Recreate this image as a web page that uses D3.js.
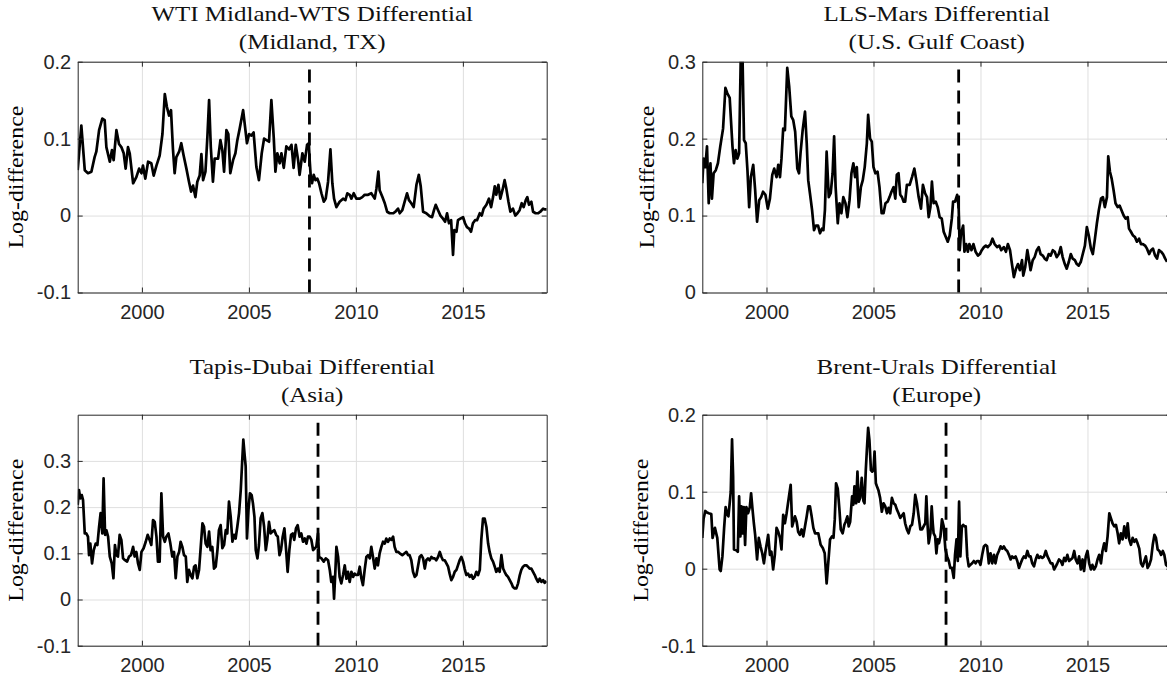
<!DOCTYPE html>
<html><head><meta charset="utf-8">
<script src="https://cdn.jsdelivr.net/npm/d3@7"></script>
<style>body{margin:0;background:#fff;overflow:hidden}svg{display:block}</style>
</head><body>
<svg id="chart" width="1167" height="679"></svg>
<script>
// ---------------- DATA ----------------
const xDomain = [1997, 2018.917];
const xTickValues = [2000, 2005, 2010, 2015];
const xTickLabels = ["2000", "2005", "2010", "2015"];
const titleLines = [
  ["WTI Midland-WTS Differential", "(Midland, TX)"],
  ["LLS-Mars Differential", "(U.S. Gulf Coast)"],
  ["Tapis-Dubai Differential", "(Asia)"],
  ["Brent-Urals Differential", "(Europe)"]
];
const yLabelText = "Log-difference";
const yDomains = [[-0.1, 0.2], [0, 0.3], [-0.1, 0.4], [-0.1, 0.2]];
const yTickValues = [[-0.1, 0, 0.1, 0.2], [0, 0.1, 0.2, 0.3], [-0.1, 0, 0.1, 0.2, 0.3], [-0.1, 0, 0.1, 0.2]];
const yTickLabels = [["-0.1", "0", "0.1", "0.2"], ["0", "0.1", "0.2", "0.3"], ["-0.1", "0", "0.1", "0.2", "0.3"], ["-0.1", "0", "0.1", "0.2"]];
const breakDates = [2007.83, 2008.98, 2008.23, 2008.39];

const wtiMidlandWts = [[1997.00,0.059],[1997.17,0.117],[1997.33,0.059],[1997.48,0.055],[1997.64,0.057],[1997.79,0.076],[1997.87,0.083],[1998.00,0.111],[1998.15,0.126],[1998.26,0.124],[1998.34,0.089],[1998.50,0.070],[1998.60,0.085],[1998.68,0.072],[1998.81,0.111],[1998.93,0.093],[1999.04,0.089],[1999.15,0.081],[1999.24,0.061],[1999.35,0.089],[1999.43,0.081],[1999.59,0.042],[1999.74,0.050],[1999.87,0.061],[1999.98,0.055],[2000.05,0.065],[2000.16,0.048],[2000.29,0.070],[2000.44,0.068],[2000.55,0.052],[2000.68,0.065],[2000.83,0.078],[2000.96,0.106],[2001.07,0.158],[2001.17,0.141],[2001.27,0.130],[2001.36,0.137],[2001.45,0.087],[2001.53,0.055],[2001.61,0.076],[2001.74,0.083],[2001.84,0.094],[2001.95,0.078],[2002.08,0.061],[2002.20,0.044],[2002.30,0.031],[2002.39,0.039],[2002.50,0.024],[2002.59,0.044],[2002.70,0.052],[2002.78,0.080],[2002.86,0.046],[2002.97,0.057],[2003.06,0.102],[2003.14,0.150],[2003.22,0.089],[2003.32,0.044],[2003.40,0.074],[2003.56,0.074],[2003.67,0.098],[2003.76,0.085],[2003.84,0.057],[2003.95,0.111],[2004.04,0.106],[2004.13,0.055],[2004.26,0.072],[2004.37,0.081],[2004.46,0.098],[2004.57,0.113],[2004.73,0.137],[2004.83,0.113],[2004.91,0.094],[2005.01,0.106],[2005.12,0.104],[2005.22,0.108],[2005.35,0.063],[2005.47,0.046],[2005.60,0.081],[2005.71,0.100],[2005.82,0.098],[2005.94,0.096],[2006.05,0.150],[2006.16,0.102],[2006.24,0.057],[2006.33,0.081],[2006.44,0.068],[2006.52,0.081],[2006.63,0.062],[2006.75,0.090],[2006.88,0.086],[2006.99,0.092],[2007.09,0.062],[2007.19,0.092],[2007.30,0.072],[2007.37,0.053],[2007.50,0.081],[2007.61,0.070],[2007.72,0.092],[2007.80,0.094],[2007.84,0.072],[2007.89,0.051],[2007.95,0.042],[2008.03,0.053],[2008.11,0.046],[2008.20,0.048],[2008.28,0.042],[2008.39,0.029],[2008.50,0.018],[2008.59,0.022],[2008.70,0.044],[2008.81,0.086],[2008.90,0.042],[2008.98,0.022],[2009.09,0.011],[2009.24,0.018],[2009.40,0.022],[2009.51,0.020],[2009.60,0.029],[2009.71,0.027],[2009.79,0.022],[2009.90,0.029],[2010.02,0.022],[2010.18,0.022],[2010.30,0.024],[2010.41,0.027],[2010.57,0.027],[2010.72,0.029],[2010.88,0.022],[2010.96,0.035],[2011.05,0.057],[2011.11,0.033],[2011.24,0.024],[2011.35,0.016],[2011.46,0.005],[2011.58,0.003],[2011.74,0.003],[2011.85,0.005],[2011.97,0.009],[2012.05,0.003],[2012.17,0.007],[2012.28,0.018],[2012.39,0.029],[2012.48,0.020],[2012.59,0.016],[2012.70,0.011],[2012.83,0.040],[2012.94,0.053],[2013.03,0.038],[2013.14,0.005],[2013.29,0.003],[2013.45,-0.001],[2013.56,-0.002],[2013.65,0.007],[2013.73,0.014],[2013.84,0.007],[2013.95,0.000],[2014.07,-0.004],[2014.17,-0.008],[2014.26,0.003],[2014.35,-0.010],[2014.45,-0.006],[2014.54,-0.051],[2014.60,-0.019],[2014.70,-0.021],[2014.77,-0.006],[2014.88,-0.004],[2015.01,-0.002],[2015.10,-0.010],[2015.19,-0.015],[2015.29,-0.017],[2015.38,-0.021],[2015.47,-0.010],[2015.57,-0.006],[2015.66,-0.006],[2015.79,0.003],[2015.88,0.000],[2015.97,0.009],[2016.10,0.014],[2016.22,0.022],[2016.32,0.011],[2016.41,0.024],[2016.49,0.038],[2016.56,0.027],[2016.66,0.040],[2016.75,0.022],[2016.85,0.033],[2016.95,0.046],[2017.03,0.035],[2017.13,0.018],[2017.22,0.005],[2017.34,0.009],[2017.45,0.000],[2017.55,0.003],[2017.65,0.007],[2017.75,0.016],[2017.84,0.011],[2017.94,0.020],[2018.01,0.024],[2018.09,0.014],[2018.20,0.018],[2018.28,0.005],[2018.40,0.003],[2018.51,0.003],[2018.62,0.005],[2018.75,0.009],[2018.84,0.008],[2018.92,0.008]];

const llsMars = [[1997.00,0.142],[1997.06,0.174],[1997.14,0.163],[1997.22,0.190],[1997.30,0.116],[1997.38,0.168],[1997.45,0.122],[1997.53,0.155],[1997.63,0.159],[1997.73,0.168],[1997.84,0.190],[1997.97,0.213],[1998.08,0.266],[1998.17,0.259],[1998.28,0.253],[1998.41,0.190],[1998.48,0.168],[1998.56,0.185],[1998.64,0.174],[1998.72,0.181],[1998.80,0.310],[1998.88,0.305],[1998.95,0.198],[1999.03,0.194],[1999.11,0.159],[1999.19,0.111],[1999.27,0.150],[1999.38,0.166],[1999.47,0.133],[1999.56,0.092],[1999.66,0.120],[1999.75,0.124],[1999.84,0.131],[1999.95,0.127],[2000.06,0.109],[2000.16,0.122],[2000.27,0.153],[2000.36,0.161],[2000.47,0.150],[2000.55,0.166],[2000.63,0.150],[2000.70,0.174],[2000.78,0.213],[2000.86,0.211],[2000.97,0.292],[2001.06,0.268],[2001.16,0.229],[2001.25,0.224],[2001.34,0.209],[2001.44,0.161],[2001.52,0.155],[2001.59,0.181],[2001.69,0.211],[2001.80,0.235],[2001.88,0.194],[2001.95,0.146],[2002.03,0.129],[2002.13,0.107],[2002.22,0.081],[2002.31,0.087],[2002.41,0.087],[2002.50,0.077],[2002.59,0.083],[2002.66,0.081],[2002.73,0.107],[2002.81,0.183],[2002.91,0.124],[2003.00,0.129],[2003.09,0.155],[2003.16,0.203],[2003.23,0.137],[2003.33,0.090],[2003.41,0.116],[2003.50,0.103],[2003.59,0.124],[2003.69,0.116],[2003.78,0.098],[2003.88,0.120],[2003.97,0.155],[2004.06,0.168],[2004.14,0.150],[2004.22,0.163],[2004.31,0.111],[2004.41,0.137],[2004.50,0.146],[2004.59,0.163],[2004.69,0.194],[2004.75,0.231],[2004.84,0.200],[2004.92,0.196],[2005.00,0.163],[2005.09,0.155],[2005.19,0.157],[2005.28,0.137],[2005.38,0.103],[2005.47,0.103],[2005.56,0.116],[2005.66,0.118],[2005.75,0.124],[2005.84,0.131],[2005.94,0.137],[2006.02,0.122],[2006.09,0.153],[2006.17,0.155],[2006.25,0.127],[2006.33,0.124],[2006.41,0.118],[2006.48,0.118],[2006.56,0.140],[2006.69,0.140],[2006.80,0.150],[2006.91,0.161],[2007.00,0.146],[2007.11,0.124],[2007.22,0.109],[2007.31,0.140],[2007.41,0.129],[2007.50,0.124],[2007.58,0.098],[2007.66,0.111],[2007.73,0.144],[2007.81,0.116],[2007.91,0.118],[2008.00,0.111],[2008.09,0.098],[2008.19,0.096],[2008.28,0.079],[2008.38,0.072],[2008.47,0.066],[2008.56,0.074],[2008.66,0.096],[2008.72,0.118],[2008.81,0.118],[2008.91,0.127],[2008.98,0.111],[2009.03,0.055],[2009.09,0.077],[2009.19,0.087],[2009.25,0.053],[2009.33,0.063],[2009.41,0.053],[2009.48,0.063],[2009.58,0.055],[2009.67,0.063],[2009.77,0.053],[2009.88,0.048],[2009.97,0.050],[2010.06,0.055],[2010.16,0.059],[2010.25,0.061],[2010.34,0.059],[2010.47,0.063],[2010.56,0.070],[2010.66,0.063],[2010.78,0.059],[2010.88,0.061],[2010.97,0.055],[2011.09,0.059],[2011.19,0.053],[2011.28,0.063],[2011.38,0.055],[2011.47,0.037],[2011.56,0.020],[2011.66,0.031],[2011.75,0.037],[2011.84,0.029],[2011.94,0.042],[2012.00,0.022],[2012.09,0.033],[2012.19,0.055],[2012.28,0.040],[2012.34,0.029],[2012.44,0.042],[2012.53,0.046],[2012.63,0.055],[2012.72,0.059],[2012.81,0.050],[2012.91,0.048],[2013.00,0.044],[2013.09,0.042],[2013.19,0.050],[2013.28,0.048],[2013.38,0.055],[2013.47,0.053],[2013.56,0.046],[2013.66,0.050],[2013.75,0.059],[2013.84,0.046],[2013.94,0.037],[2014.03,0.031],[2014.13,0.040],[2014.22,0.050],[2014.31,0.044],[2014.41,0.042],[2014.50,0.037],[2014.59,0.035],[2014.69,0.040],[2014.78,0.050],[2014.88,0.061],[2014.97,0.085],[2015.06,0.074],[2015.16,0.057],[2015.25,0.050],[2015.34,0.068],[2015.44,0.090],[2015.53,0.107],[2015.63,0.122],[2015.72,0.124],[2015.81,0.111],[2015.91,0.124],[2015.97,0.177],[2016.05,0.157],[2016.13,0.148],[2016.22,0.133],[2016.31,0.116],[2016.41,0.111],[2016.50,0.113],[2016.59,0.107],[2016.69,0.100],[2016.78,0.096],[2016.88,0.098],[2016.94,0.083],[2017.03,0.079],[2017.13,0.074],[2017.22,0.072],[2017.31,0.066],[2017.41,0.070],[2017.50,0.063],[2017.59,0.063],[2017.69,0.061],[2017.78,0.057],[2017.88,0.050],[2017.97,0.055],[2018.06,0.057],[2018.16,0.048],[2018.25,0.044],[2018.34,0.055],[2018.44,0.053],[2018.53,0.050],[2018.63,0.044],[2018.72,0.040]];

const tapisDubai = [[1997.00,0.205],[1997.06,0.237],[1997.12,0.219],[1997.19,0.226],[1997.25,0.215],[1997.33,0.143],[1997.40,0.143],[1997.48,0.136],[1997.53,0.096],[1997.59,0.121],[1997.67,0.078],[1997.75,0.107],[1997.84,0.121],[1997.92,0.118],[1998.00,0.158],[1998.07,0.187],[1998.15,0.143],[1998.21,0.262],[1998.28,0.140],[1998.34,0.150],[1998.42,0.136],[1998.50,0.093],[1998.59,0.078],[1998.67,0.046],[1998.74,0.118],[1998.81,0.096],[1998.88,0.093],[1998.96,0.140],[1999.04,0.129],[1999.12,0.089],[1999.21,0.085],[1999.31,0.082],[1999.40,0.093],[1999.49,0.096],[1999.59,0.114],[1999.66,0.093],[1999.74,0.103],[1999.82,0.078],[1999.90,0.064],[1999.98,0.103],[2000.08,0.111],[2000.18,0.125],[2000.27,0.140],[2000.36,0.129],[2000.44,0.118],[2000.52,0.172],[2000.60,0.168],[2000.68,0.136],[2000.75,0.082],[2000.83,0.082],[2000.91,0.230],[2000.99,0.136],[2001.07,0.125],[2001.14,0.136],[2001.24,0.143],[2001.33,0.121],[2001.42,0.093],[2001.50,0.103],[2001.58,0.046],[2001.66,0.093],[2001.74,0.103],[2001.81,0.125],[2001.89,0.114],[2001.97,0.096],[2002.05,0.093],[2002.12,0.038],[2002.20,0.064],[2002.28,0.053],[2002.36,0.046],[2002.44,0.071],[2002.51,0.074],[2002.59,0.046],[2002.67,0.064],[2002.75,0.114],[2002.83,0.165],[2002.90,0.158],[2002.98,0.121],[2003.06,0.114],[2003.14,0.147],[2003.21,0.107],[2003.29,0.114],[2003.37,0.067],[2003.45,0.071],[2003.53,0.107],[2003.60,0.150],[2003.68,0.161],[2003.76,0.111],[2003.84,0.118],[2003.92,0.150],[2003.99,0.143],[2004.07,0.212],[2004.15,0.179],[2004.23,0.125],[2004.31,0.140],[2004.38,0.132],[2004.46,0.158],[2004.54,0.187],[2004.62,0.237],[2004.69,0.302],[2004.74,0.346],[2004.80,0.313],[2004.85,0.288],[2004.91,0.132],[2004.98,0.194],[2005.05,0.230],[2005.13,0.226],[2005.19,0.208],[2005.26,0.179],[2005.32,0.107],[2005.40,0.089],[2005.47,0.118],[2005.55,0.176],[2005.63,0.187],[2005.71,0.158],[2005.79,0.107],[2005.86,0.129],[2005.94,0.168],[2006.02,0.143],[2006.10,0.147],[2006.19,0.150],[2006.27,0.140],[2006.35,0.136],[2006.43,0.096],[2006.50,0.107],[2006.58,0.136],[2006.66,0.154],[2006.74,0.107],[2006.81,0.060],[2006.89,0.107],[2006.97,0.140],[2007.05,0.143],[2007.12,0.129],[2007.20,0.154],[2007.28,0.161],[2007.37,0.136],[2007.45,0.143],[2007.53,0.125],[2007.61,0.132],[2007.69,0.121],[2007.76,0.136],[2007.84,0.136],[2007.92,0.129],[2008.00,0.107],[2008.08,0.111],[2008.15,0.114],[2008.23,0.143],[2008.28,0.092],[2008.39,0.089],[2008.50,0.082],[2008.59,0.089],[2008.70,0.085],[2008.78,0.064],[2008.85,0.038],[2008.93,0.049],[2008.98,0.002],[2009.04,0.060],[2009.09,0.114],[2009.17,0.092],[2009.24,0.049],[2009.32,0.035],[2009.40,0.053],[2009.48,0.074],[2009.56,0.045],[2009.63,0.060],[2009.71,0.038],[2009.79,0.060],[2009.87,0.049],[2009.94,0.056],[2010.02,0.053],[2010.10,0.053],[2010.18,0.071],[2010.26,0.045],[2010.33,0.031],[2010.41,0.064],[2010.49,0.092],[2010.57,0.096],[2010.65,0.089],[2010.72,0.114],[2010.80,0.092],[2010.88,0.067],[2010.96,0.089],[2011.03,0.074],[2011.11,0.100],[2011.19,0.114],[2011.27,0.125],[2011.35,0.121],[2011.42,0.132],[2011.50,0.125],[2011.58,0.132],[2011.66,0.129],[2011.74,0.136],[2011.81,0.114],[2011.89,0.103],[2011.97,0.103],[2012.05,0.100],[2012.17,0.096],[2012.28,0.100],[2012.36,0.103],[2012.44,0.096],[2012.51,0.096],[2012.59,0.085],[2012.67,0.060],[2012.75,0.049],[2012.83,0.053],[2012.90,0.071],[2012.98,0.092],[2013.06,0.096],[2013.14,0.089],[2013.22,0.067],[2013.29,0.085],[2013.37,0.089],[2013.45,0.085],[2013.53,0.092],[2013.61,0.089],[2013.68,0.089],[2013.76,0.085],[2013.84,0.092],[2013.92,0.103],[2014.00,0.092],[2014.07,0.085],[2014.15,0.085],[2014.23,0.078],[2014.31,0.071],[2014.38,0.056],[2014.46,0.042],[2014.54,0.049],[2014.62,0.060],[2014.70,0.064],[2014.77,0.074],[2014.85,0.085],[2014.93,0.092],[2015.01,0.082],[2015.08,0.067],[2015.16,0.053],[2015.24,0.056],[2015.32,0.049],[2015.40,0.053],[2015.47,0.045],[2015.55,0.049],[2015.63,0.060],[2015.71,0.053],[2015.79,0.064],[2015.86,0.129],[2015.94,0.175],[2016.02,0.175],[2016.10,0.157],[2016.18,0.121],[2016.25,0.103],[2016.33,0.089],[2016.41,0.082],[2016.49,0.071],[2016.56,0.060],[2016.64,0.067],[2016.72,0.060],[2016.80,0.096],[2016.88,0.067],[2016.95,0.060],[2017.03,0.053],[2017.11,0.049],[2017.19,0.042],[2017.27,0.035],[2017.34,0.027],[2017.42,0.024],[2017.50,0.024],[2017.58,0.035],[2017.66,0.053],[2017.73,0.064],[2017.81,0.071],[2017.89,0.074],[2017.97,0.074],[2018.04,0.071],[2018.12,0.067],[2018.20,0.067],[2018.28,0.060],[2018.36,0.053],[2018.43,0.045],[2018.51,0.038],[2018.59,0.045],[2018.67,0.038],[2018.75,0.042],[2018.82,0.036],[2018.90,0.040]];

const brentUrals = [[1997.00,0.040],[1997.06,0.065],[1997.14,0.075],[1997.22,0.073],[1997.30,0.072],[1997.42,0.071],[1997.48,0.040],[1997.59,0.053],[1997.70,0.040],[1997.81,-0.001],[1997.86,-0.003],[1997.94,0.016],[1998.02,0.053],[1998.09,0.080],[1998.17,0.070],[1998.22,0.068],[1998.28,0.085],[1998.33,0.100],[1998.39,0.168],[1998.44,0.120],[1998.48,0.025],[1998.59,0.024],[1998.66,0.022],[1998.72,0.094],[1998.78,0.042],[1998.83,0.081],[1998.88,0.046],[1998.94,0.080],[1999.00,0.031],[1999.06,0.080],[1999.14,0.072],[1999.22,0.080],[1999.28,0.098],[1999.34,0.079],[1999.41,0.059],[1999.47,0.044],[1999.56,0.012],[1999.64,0.040],[1999.72,0.029],[1999.80,0.020],[1999.88,0.007],[1999.95,0.022],[2000.08,0.044],[2000.16,0.018],[2000.23,0.022],[2000.31,-0.001],[2000.39,0.018],[2000.47,0.053],[2000.55,0.048],[2000.63,0.040],[2000.70,0.025],[2000.78,0.070],[2000.86,0.059],[2000.94,0.072],[2001.05,0.094],[2001.13,0.109],[2001.20,0.055],[2001.33,0.068],[2001.41,0.061],[2001.48,0.048],[2001.56,0.044],[2001.64,0.051],[2001.72,0.042],[2001.80,0.055],[2001.88,0.068],[2001.95,0.081],[2002.03,0.081],[2002.11,0.068],[2002.19,0.053],[2002.27,0.046],[2002.42,0.046],[2002.53,0.031],[2002.63,0.027],[2002.72,0.020],[2002.81,-0.019],[2002.91,0.016],[2002.97,0.038],[2003.06,0.042],[2003.13,0.040],[2003.19,0.064],[2003.25,0.111],[2003.33,0.104],[2003.41,0.076],[2003.47,0.051],[2003.56,0.046],[2003.64,0.057],[2003.70,0.061],[2003.78,0.068],[2003.84,0.055],[2003.91,0.061],[2004.00,0.094],[2004.06,0.083],[2004.11,0.107],[2004.19,0.085],[2004.25,0.126],[2004.31,0.087],[2004.38,0.092],[2004.45,0.118],[2004.53,0.088],[2004.58,0.085],[2004.64,0.128],[2004.69,0.154],[2004.75,0.183],[2004.81,0.167],[2004.88,0.128],[2004.94,0.126],[2005.00,0.128],[2005.05,0.152],[2005.11,0.111],[2005.16,0.107],[2005.23,0.102],[2005.31,0.092],[2005.39,0.074],[2005.47,0.085],[2005.55,0.081],[2005.63,0.072],[2005.70,0.079],[2005.78,0.072],[2005.86,0.092],[2005.94,0.085],[2006.02,0.083],[2006.09,0.077],[2006.17,0.072],[2006.25,0.066],[2006.41,0.072],[2006.48,0.059],[2006.56,0.051],[2006.64,0.046],[2006.72,0.055],[2006.80,0.057],[2006.88,0.072],[2006.95,0.096],[2007.03,0.085],[2007.11,0.068],[2007.19,0.051],[2007.27,0.051],[2007.34,0.055],[2007.42,0.059],[2007.47,0.094],[2007.53,0.055],[2007.58,0.033],[2007.66,0.046],[2007.72,0.081],[2007.77,0.059],[2007.81,0.046],[2007.88,0.042],[2007.94,0.020],[2008.00,0.038],[2008.06,0.033],[2008.13,0.042],[2008.20,0.064],[2008.28,0.055],[2008.36,0.025],[2008.44,0.016],[2008.52,0.010],[2008.59,0.001],[2008.67,0.001],[2008.75,-0.012],[2008.81,0.018],[2008.88,0.038],[2008.94,0.010],[2009.00,0.087],[2009.06,0.016],[2009.13,0.055],[2009.19,0.057],[2009.25,0.055],[2009.31,0.055],[2009.38,0.016],[2009.45,0.003],[2009.53,0.005],[2009.61,0.007],[2009.69,0.010],[2009.77,0.007],[2009.84,0.010],[2009.92,0.010],[2010.00,0.005],[2010.08,0.018],[2010.16,0.029],[2010.23,0.031],[2010.31,0.029],[2010.39,0.007],[2010.47,0.020],[2010.55,0.007],[2010.63,0.018],[2010.70,0.007],[2010.78,0.018],[2010.86,0.023],[2010.94,0.029],[2011.02,0.026],[2011.09,0.029],[2011.17,0.025],[2011.25,0.023],[2011.33,0.018],[2011.41,0.012],[2011.48,0.016],[2011.56,0.014],[2011.64,0.016],[2011.72,0.010],[2011.80,0.001],[2011.88,0.007],[2011.95,0.012],[2012.03,0.016],[2012.11,0.014],[2012.19,0.023],[2012.27,0.016],[2012.34,0.016],[2012.42,0.007],[2012.50,0.003],[2012.58,0.012],[2012.66,0.018],[2012.73,0.014],[2012.81,0.016],[2012.89,0.014],[2012.97,0.016],[2013.05,0.023],[2013.13,0.016],[2013.20,0.012],[2013.28,0.007],[2013.36,0.007],[2013.44,-0.001],[2013.52,0.003],[2013.59,0.007],[2013.67,0.012],[2013.75,0.010],[2013.83,0.005],[2013.91,0.014],[2013.98,0.010],[2014.06,0.018],[2014.14,0.010],[2014.22,0.012],[2014.30,0.014],[2014.38,0.023],[2014.45,0.012],[2014.53,0.007],[2014.61,0.016],[2014.69,-0.001],[2014.77,0.012],[2014.84,-0.003],[2014.92,0.016],[2015.00,0.023],[2015.08,0.007],[2015.16,-0.001],[2015.23,0.005],[2015.31,-0.001],[2015.39,0.003],[2015.47,0.012],[2015.55,0.018],[2015.63,0.007],[2015.70,0.023],[2015.78,0.033],[2015.86,0.023],[2015.94,0.042],[2016.02,0.072],[2016.09,0.066],[2016.17,0.059],[2016.25,0.055],[2016.33,0.057],[2016.41,0.046],[2016.48,0.033],[2016.56,0.046],[2016.64,0.038],[2016.72,0.055],[2016.80,0.040],[2016.88,0.059],[2016.95,0.038],[2017.03,0.031],[2017.11,0.040],[2017.19,0.035],[2017.27,0.038],[2017.34,0.033],[2017.42,0.026],[2017.50,0.007],[2017.58,0.003],[2017.66,0.010],[2017.73,0.016],[2017.81,0.001],[2017.89,0.005],[2017.97,0.012],[2018.05,0.031],[2018.13,0.044],[2018.20,0.040],[2018.28,0.025],[2018.36,0.023],[2018.44,0.018],[2018.52,0.023],[2018.59,0.018],[2018.67,0.005],[2018.75,0.003]];

const seriesList = [wtiMidlandWts, llsMars, tapisDubai, brentUrals];

// ---------------- LAYOUT ----------------
const svg = d3.select("#chart");
const colX = [[77.7, 546.7], [702.3, 1171.3]];
const rowY = [[61.7, 292.5], [414.7, 645.7]];
const axisColor = "#262626";
const gridColor = "#dfdfdf";
const sansFont = "'Liberation Sans', Arial, Helvetica, sans-serif";
const serifFont = "'Liberation Serif', 'Times New Roman', serif";

const defs = svg.append("defs");

seriesList.forEach((data, i) => {
  const [x0, x1] = colX[i % 2];
  const [yt, yb] = rowY[Math.floor(i / 2)];
  const x = d3.scaleLinear().domain(xDomain).range([x0, x1]);
  const y = d3.scaleLinear().domain(yDomains[i]).range([yb, yt]);
  const g = svg.append("g");

  // grid
  const gridX = g.append("g").attr("transform", `translate(0,${yb})`)
    .call(d3.axisBottom(x).tickValues(xTickValues).tickSize(-(yb - yt)).tickFormat(""));
  const gridY = g.append("g").attr("transform", `translate(${x0},0)`)
    .call(d3.axisLeft(y).tickValues(yTickValues[i]).tickSize(-(x1 - x0)).tickFormat(""));
  [gridX, gridY].forEach(a => {
    a.select(".domain").remove();
    a.selectAll("line").attr("stroke", gridColor).attr("stroke-width", 1);
  });

  // clip
  const cid = "clip" + i;
  defs.append("clipPath").attr("id", cid).append("rect")
    .attr("x", x0).attr("y", yt).attr("width", x1 - x0).attr("height", yb - yt);

  // data line
  const line = d3.line().x(d => x(d[0])).y(d => y(d[1]));
  g.append("path").datum(data)
    .attr("clip-path", `url(#${cid})`)
    .attr("d", line)
    .attr("fill", "none").attr("stroke", "#000").attr("stroke-width", 2.7)
    .attr("stroke-linejoin", "round");

  // break (dashed) line, drawn bottom to top
  g.append("line")
    .attr("x1", x(breakDates[i])).attr("x2", x(breakDates[i]))
    .attr("y1", y(yDomains[i][0])).attr("y2", y(yDomains[i][1]))
    .attr("stroke", "#000").attr("stroke-width", 2.8)
    .attr("stroke-dasharray", "13,8");

  // axes
  const tickLen = -5;
  const axB = g.append("g").attr("transform", `translate(0,${yb})`)
    .call(d3.axisBottom(x).tickValues(xTickValues).tickFormat((d, k) => xTickLabels[k])
      .tickSizeInner(tickLen).tickSizeOuter(0).tickPadding(12));
  const axT = g.append("g").attr("transform", `translate(0,${yt})`)
    .call(d3.axisTop(x).tickValues(xTickValues).tickFormat("").tickSizeInner(tickLen).tickSizeOuter(0));
  const axL = g.append("g").attr("transform", `translate(${x0},0)`)
    .call(d3.axisLeft(y).tickValues(yTickValues[i]).tickFormat((d, k) => yTickLabels[i][k])
      .tickSizeInner(tickLen).tickSizeOuter(0).tickPadding(6.5));
  const axR = g.append("g").attr("transform", `translate(${x1},0)`)
    .call(d3.axisRight(y).tickValues(yTickValues[i]).tickFormat("").tickSizeInner(tickLen).tickSizeOuter(0));
  [axB, axT, axL, axR].forEach(a => {
    a.select(".domain").attr("stroke", axisColor).attr("stroke-width", 1);
    a.selectAll("line").attr("stroke", axisColor).attr("stroke-width", 1);
    a.selectAll("text").attr("fill", axisColor).style("font-family", sansFont).style("font-size", "20px");
  });

  // y label placement based on tick label extent
  let minLeft = x0;
  axL.selectAll("text").each(function () {
    const b = this.getBBox();
    minLeft = Math.min(minLeft, x0 + b.x);
  });
  const ylx = minLeft - 13.5;
  const ylyc = (yt + yb) / 2;
  svg.append("text")
    .attr("transform", `translate(${ylx},${ylyc}) rotate(-90)`)
    .attr("text-anchor", "middle")
    .style("font-family", serifFont).style("font-size", "22px")
    .attr("fill", "#000")
    .attr("textLength", 143).attr("lengthAdjust", "spacingAndGlyphs")
    .text(yLabelText);

  // titles
  const cx = (x0 + x1) / 2;
  const baselines = [yt - 40.5, yt - 13];
  titleLines[i].forEach((t, k) => {
    const tt = svg.append("text")
      .attr("x", cx).attr("y", baselines[k])
      .attr("text-anchor", "middle")
      .style("font-family", serifFont).style("font-size", "21px")
      .attr("fill", "#111")
      .text(t);
    const nat = tt.node().getComputedTextLength();
    tt.attr("textLength", nat * 1.19).attr("lengthAdjust", "spacingAndGlyphs");
  });
});
</script>
</body></html>
